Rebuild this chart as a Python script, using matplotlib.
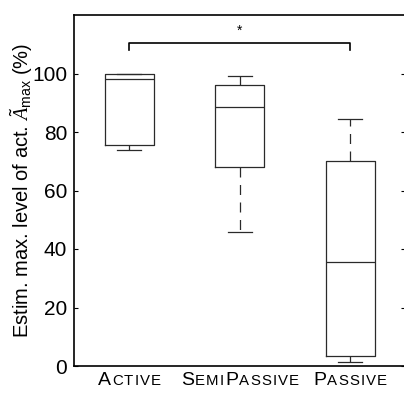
import matplotlib
matplotlib.use("Agg")
import matplotlib.pyplot as plt
from matplotlib.offsetbox import TextArea, HPacker, AnnotationBbox

plt.rcParams['font.family'] = ['Liberation Sans', 'DejaVu Sans']
plt.rcParams['mathtext.fontset'] = 'custom'
plt.rcParams['mathtext.rm'] = 'Liberation Sans'
plt.rcParams['mathtext.it'] = 'Liberation Serif:italic'

# group data
groups = ['Active', 'SemiPassive', 'Passive']
whislo = [73.8, 45.8, 1.3]
q1 = [75.4, 68.1, 3.3]
med = [98.2, 88.4, 35.7]
q3 = [99.7, 96.2, 70.2]
whishi = [100.0, 99.0, 84.3]
sig_pair = (1, 3)
sig_y = 110.3

stats = []
for i, g in enumerate(groups):
    stats.append(dict(label=g, whislo=whislo[i], q1=q1[i], med=med[i],
                      q3=q3[i], whishi=whishi[i], fliers=[]))

fig = plt.figure(figsize=(4.04, 3.94), dpi=100)
ax = fig.add_axes([74 / 404, 28 / 394, 331.5 / 404, 351 / 394])

box_col = '#2a2a2a'
ax.bxp(stats, positions=[1, 2, 3], widths=0.44, showfliers=False,
       boxprops=dict(color=box_col, linewidth=0.9),
       medianprops=dict(color=box_col, linewidth=0.9),
       whiskerprops=dict(color=box_col, linewidth=0.9, linestyle=(0, (8, 6))),
       capprops=dict(color=box_col, linewidth=0.9), capwidths=0.22)

# significance bracket
x1, x2 = sig_pair
ax.plot([x1, x1, x2, x2], [sig_y - 2.3, sig_y, sig_y, sig_y - 2.3],
        color='black', linewidth=1.2, clip_on=False)
ax.text((x1 + x2) / 2, sig_y + 2.0, '*', ha='center', va='bottom', fontsize=10)

ax.set_xlim(0.5, 3.5)
ax.set_ylim(0, 120)
ax.set_yticks([0, 20, 40, 60, 80, 100])
ax.tick_params(axis='y', direction='in', length=3, labelsize=15, right=True, pad=5)
ax.set_xticks([])
for s in ax.spines.values():
    s.set_linewidth(1.2)
ax.set_ylabel(r'Estim. max. level of act. $\tilde{A}_{\mathrm{max}}$ (%)', fontsize=14.5)
ax.yaxis.set_label_coords(-0.118, 0.5)

# small-caps category labels
for i, g in enumerate(groups):
    parts = []
    for ch in g:
        if ch.isupper():
            parts.append(TextArea(ch, textprops=dict(fontsize=14)))
        else:
            parts.append(TextArea(ch.upper(), textprops=dict(fontsize=10.8)))
    pack = HPacker(children=parts, align='baseline', pad=0, sep=0.8)
    ab = AnnotationBbox(pack, (i + 1, 0), xycoords=('data', 'axes fraction'),
                        xybox=(0, -4), boxcoords='offset points',
                        box_alignment=(0.5, 1), frameon=False, pad=0)
    ax.add_artist(ab)

fig.savefig('out.png', dpi=100)
